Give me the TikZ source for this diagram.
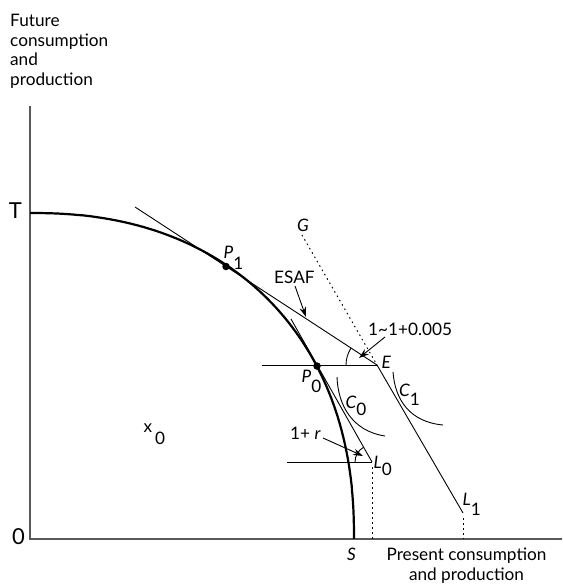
\documentclass[tikz,border=0pt]{standalone}
\usepackage{fontspec}
\setmainfont{Lato}
\usetikzlibrary{arrows.meta}
\newcommand\lsub[2][9pt]{\raisebox{-#1}{#2}}
\begin{document}
\begin{tikzpicture}[x=1pt,y=-1pt,
  axis/.style={draw=black!65, line width=1.3pt},
  ppf/.style={line width=2.2pt},
  thinline/.style={line width=0.9pt},
  dotline/.style={line width=1pt, dash pattern=on 1.5pt off 3.5pt},
  arr/.style={thinline, -{Stealth[length=10pt,width=6.5pt]}},
  lab/.style={font=\fontsize{17.2}{19.5}\selectfont, inner sep=0pt},
  ilab/.style={lab, font=\fontsize{17.2}{19.5}\selectfont\itshape},
  big/.style={font=\fontsize{22}{24}\selectfont, inner sep=0pt},
  dot/.style={circle, fill=black, inner sep=0pt, minimum size=7.5pt}]
\useasboundingbox (0,0) rectangle (562,586);
% coordinates
\coordinate (O) at (30,539);
\coordinate (ytop) at (30,106);
\coordinate (xend) at (562,539);
\coordinate (E) at (377,365);
\coordinate (esafstart) at (135,207);
\coordinate (gtop) at (302,235);
\coordinate (L1) at (463,513);
\coordinate (L0) at (372,462);
\coordinate (t0) at (291,319);
\coordinate (hE) at (262,365);
\coordinate (hL) at (287,462);
\coordinate (esafA) at (295,286);
\coordinate (esafB) at (306,317);
\coordinate (angA) at (385,337);
\coordinate (angB) at (359,358);
\coordinate (rA) at (323,438);
\coordinate (rB) at (363,456);
% axes
\draw[axis] (ytop) -- (O) -- (xend);
% production possibility frontier
\draw[ppf] plot[domain=0:90, samples=150, variable=\t]
  ({30+324*pow(max(cos(\t),0.0001),0.889)}, {539-326*pow(max(sin(\t),0.0001),0.889)});
% lines
\draw[thinline] (esafstart) -- (E) -- (L1);
\draw[dotline] (gtop) -- (E);
\draw[thinline] (hE) -- (E);
\draw[thinline] (t0) -- (L0);
\draw[thinline] (hL) -- (L0);
\draw[dotline] ([yshift=-5pt]L0) -- (L0 |- O);
\draw[dotline] ([yshift=-5pt]L1) -- (L1 |- O);
% angle arcs
\draw[thinline] (E) ++(180:31) arc[start angle=180, end angle=213, radius=31];
\draw[thinline] (L0) ++(180:17) arc[start angle=180, end angle=240.4, radius=17];
% indifference curves
\draw[thinline] (337,377) .. controls (338,405) and (352,431) .. (385,436);
\draw[thinline] (393,372) .. controls (395,400) and (410,422) .. (443,425);
% dots
\node[dot] (P1) at (226,266.5) {};
\node[dot] (P0) at (317,366) {};
% labels
\node[lab, anchor=base west, align=left] (ylab) at (10,85) {Future\\consumption\\and\\production};
\node[lab, anchor=base, align=center] (xlab) at (466.5,580) {Present consumption\\and production};
\node[big] (Tl) at (15.3,210.5) {T};
\node[big] (Ol) at (18.5,537) {0};
\node[ilab, anchor=base west] (P1l) at (223.5,258) {P\lsub[11pt]{\upshape 1}};
\node[ilab, anchor=base west] (P0l) at (301.5,382) {P\lsub[10pt]{\upshape 0}};
\node[ilab, anchor=base west] (El) at (381.5,368) {E};
\node[ilab, anchor=base west] (Gl) at (297,231.5) {G};
\node[ilab, anchor=base west] (C0l) at (345.5,408) {C\lsub[7pt]{\upshape 0}};
\node[ilab, anchor=base west] (C1l) at (399,396) {C\lsub[9pt]{\upshape 1}};
\node[ilab, anchor=base west] (L0l) at (373.5,468) {L\lsub[7.5pt]{\upshape 0}};
\node[ilab, anchor=base west] (L1l) at (462.5,505) {L\lsub[10pt]{\upshape 1}};
\node[ilab, anchor=base west] (Sl) at (347,560) {S};
\node[lab, anchor=base west] (x0l) at (143.5,432) {x\,\lsub[12pt]{0}};
\node[lab, anchor=base west] (esaf) at (274,283) {ESAF};
\node[lab, anchor=base west] (angl) at (368,335) {1\textasciitilde 1+0.005};
\node[lab, anchor=base west] (onepr) at (290,439) {1+ \textit{r}};
% label arrows
\draw[arr] (esafA) -- (esafB);
\draw[arr] (angA) -- (angB);
\draw[arr] (rA) -- (rB);
\end{tikzpicture}
\end{document}
